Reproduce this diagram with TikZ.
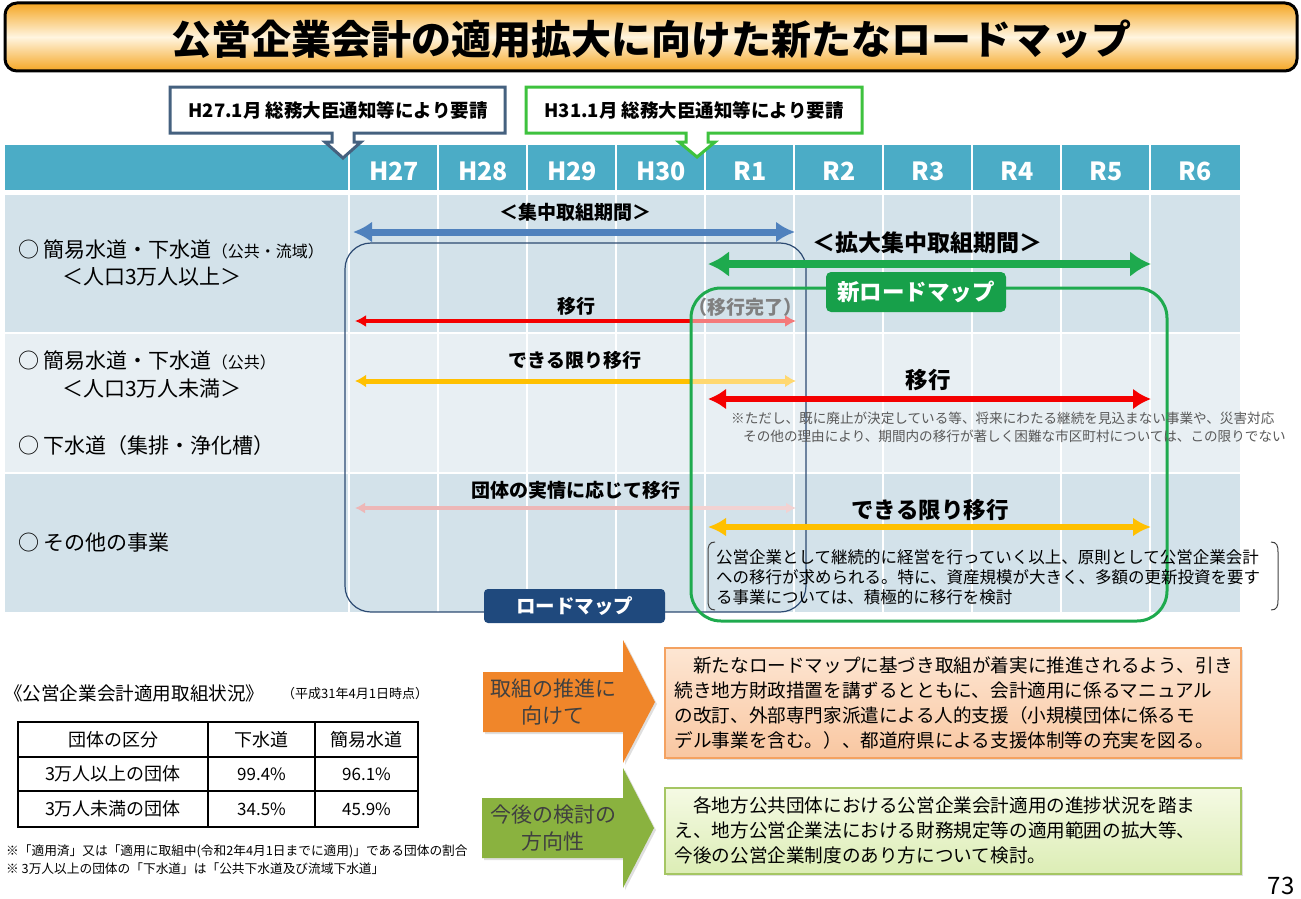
\documentclass[tikz,border=0pt]{standalone}
\usepackage{fontspec}
\setmainfont{Noto Sans CJK JP}
\usetikzlibrary{arrows.meta,calc,shadows}

\definecolor{ttlorange}{HTML}{F5A623}
\definecolor{ttlpale}{HTML}{FFF5E0}
\definecolor{hdr}{HTML}{4BACC6}
\definecolor{rowA}{HTML}{D3E2EA}
\definecolor{rowB}{HTML}{E8EFF3}
\definecolor{navy}{HTML}{1F497D}
\definecolor{navyline}{HTML}{2C4A72}
\definecolor{grn}{HTML}{1EAA4E}
\definecolor{grnbox}{HTML}{17A04A}
\definecolor{blu}{HTML}{4F81BD}
\definecolor{redA}{HTML}{F40000}
\definecolor{redB}{HTML}{F47A7A}
\definecolor{ylwA}{HTML}{FFC000}
\definecolor{ylwB}{HTML}{FFD870}
\definecolor{pnkA}{HTML}{EDB7B7}
\definecolor{pnkB}{HTML}{F2D2D2}
\definecolor{callblue}{HTML}{45617F}
\definecolor{callgreen}{HTML}{3EC23E}
\definecolor{notegray}{HTML}{595959}
\definecolor{arrorange}{HTML}{F0862A}
\definecolor{arrgreen}{HTML}{8AB23F}
\definecolor{otop}{HTML}{FDE6D3}
\definecolor{obot}{HTML}{F9C7A1}
\definecolor{obrd}{HTML}{F4A261}
\definecolor{gtop}{HTML}{F5FAE4}
\definecolor{gbot}{HTML}{DCEDB5}
\definecolor{gbrd}{HTML}{A5C663}

\newcommand{\fsz}[2]{\fontsize{#1}{#2}\selectfont}

\tikzset{
  hdrtxt/.style={text=white,font=\fsz{25}{25}\bfseries},
  lbl/.style={anchor=west,font=\fsz{21}{24}},
  tag/.style={font=\fsz{19}{20}\bfseries},
  bigtag/.style={font=\fsz{22.5}{24}\bfseries},
  cell/.style={font=\fsz{18}{20}},
  pct/.style={font=\fsz{17}{20}},
  boxtxt/.style={align=left,anchor=north west,font=\fsz{18.6}{25},drop shadow={opacity=0.25,shadow xshift=2pt,shadow yshift=-2pt}},
  arrtxt/.style={align=center,font=\fsz{21}{27},text=black!75},
  callout/.style={line width=3pt,fill=white,line join=miter},
}

\begin{document}
\begin{tikzpicture}[x=1pt,y=-1pt,>=latex,every node/.style={inner sep=0pt}]
  \useasboundingbox (0,0) rectangle (1301,899);
  % title bar
  \draw[line width=3pt,rounded corners=12pt,top color=ttlorange,bottom color=ttlorange,middle color=ttlpale] (5,3) rectangle (1297,71);
  \node[font=\fsz{40}{40}\bfseries] (title) at (651,39) {公営企業会計の適用拡大に向けた新たなロードマップ};

  % table rows
  \fill[hdr] (5,145) rectangle (1240,190);
  \fill[rowA] (5,195) rectangle (1240,332);
  \fill[rowB] (5,334) rectangle (1240,472);
  \fill[rowA] (5,474) rectangle (1240,612);
  \foreach \i in {0,...,9}
    \draw[white,line width=2pt] ({349+89*\i},145) -- ({349+89*\i},612);
  \foreach \yr [count=\i from 0] in {H27,H28,H29,H30,R1,R2,R3,R4,R5,R6}
    \node[hdrtxt] (yr\i) at ({394+89*\i},171) {\yr};

  % callouts
  \draw[callout,draw=callblue] (170,87) -- (505,87) -- (505,133) -- (354,133) -- (354,142) -- (361,142)
    -- (343,158) -- (325,142) -- (332,142) -- (332,133) -- (170,133) -- cycle;
  \node[font=\fsz{18.5}{18}\bfseries] (req1) at (338,110) {H27.1月 総務大臣通知等により要請};
  \draw[callout,draw=callgreen] (526,87) -- (862,87) -- (862,133) -- (708,133) -- (708,142) -- (715,142)
    -- (697,157) -- (679,142) -- (686,142) -- (686,133) -- (526,133) -- cycle;
  \node[font=\fsz{18.5}{18}\bfseries] (req2) at (694,110) {H31.1月 総務大臣通知等により要請};

  % row labels
  \node[lbl] (large) at (18,250) {○ 簡易水道・下水道{\fsz{16}{16}（公共・流域）}};
  \node[lbl] (largepop) at (62,277) {＜人口3万人以上＞};
  \node[lbl] (small) at (18,361) {○ 簡易水道・下水道{\fsz{16}{16}（公共）}};
  \node[lbl] (smallpop) at (62,389) {＜人口3万人未満＞};
  \node[lbl] (sewer) at (18,446) {○ 下水道（集排・浄化槽）};
  \node[lbl] (other) at (18,543) {○ その他の事業};

  % old roadmap
  \draw[navyline,line width=1.2pt,rounded corners=26pt] (345,243) rectangle (806,612);
  \coordinate (focusL) at (353,232);
  \coordinate (focusR) at (795,232);
  \draw[blu,line width=7pt,{Latex[length=19pt,width=21pt]}-{Latex[length=19pt,width=21pt]}] (focusL) -- (focusR);
  \node[tag] (focus) at (575,212) {＜集中取組期間＞};

  \coordinate (mvL) at (355,321);
  \coordinate (mvC) at (691,321);
  \coordinate (mvR) at (796,321);
  \draw[redB,line width=4pt,-{Latex[length=11pt,width=12pt]}] (mvC) -- (mvR);
  \draw[redA,line width=4pt,{Latex[length=11pt,width=12pt]}-] (mvL) -- (mvC);
  \node[tag] (mv) at (576,306) {移行};
  \node[tag,text=black!50] (done) at (745,307) {（移行完了）};

  \coordinate (tryL) at (355,381);
  \coordinate (tryC) at (691,381);
  \coordinate (tryR) at (796,381);
  \draw[ylwB,line width=5pt,-{Latex[length=11pt,width=13pt]}] (tryC) -- (tryR);
  \draw[ylwA,line width=5pt,{Latex[length=11pt,width=13pt]}-] (tryL) -- (tryC);
  \node[tag] (try) at (575,360) {できる限り移行};

  \coordinate (caseL) at (355,508);
  \coordinate (caseC) at (691,508);
  \coordinate (caseR) at (796,508);
  \draw[pnkB,line width=4pt,-{Latex[length=10pt,width=11pt]}] (caseC) -- (caseR);
  \draw[pnkA,line width=4pt,{Latex[length=10pt,width=11pt]}-] (caseL) -- (caseC);
  \node[tag] (case) at (576,490) {団体の実情に応じて移行};

  \node[fill=navy,rounded corners=4pt,minimum width=181pt,minimum height=34pt,text=white,font=\fsz{19.5}{20}\bfseries] (oldmap) at (574.5,606) {ロードマップ};

  % new roadmap
  \draw[grn,line width=3pt,rounded corners=30pt] (691,288) rectangle (1167,621);
  \node[fill=grnbox,rounded corners=5pt,minimum width=180pt,minimum height=40pt,text=white,font=\fsz{22.5}{23}\bfseries] (newmap) at (916,292) {新ロードマップ};

  \coordinate (wideL) at (708,264);
  \coordinate (wideR) at (1151,264);
  \draw[grn,line width=8pt,{Latex[length=21pt,width=26pt]}-{Latex[length=21pt,width=26pt]}] (wideL) -- (wideR);
  \node[font=\fsz{23}{24}\bfseries] (wide) at (927,243) {＜拡大集中取組期間＞};

  \coordinate (mustL) at (708,399);
  \coordinate (mustR) at (1151,399);
  \draw[redA,line width=6pt,{Latex[length=18pt,width=21pt]}-{Latex[length=18pt,width=21pt]}] (mustL) -- (mustR);
  \node[bigtag] (must) at (928,380) {移行};
  \node[anchor=west,align=left,font=\fsz{13.6}{18},text=notegray] (except) at (731,427)
    {※ただし、既に廃止が決定している等、将来にわたる継続を見込まない事業や、災害対応\\
     \hspace*{12pt}その他の理由により、期間内の移行が著しく困難な市区町村については、この限りでない};

  \coordinate (bestL) at (708,527);
  \coordinate (bestR) at (1151,527);
  \draw[ylwA,line width=6pt,{Latex[length=18pt,width=19pt]}-{Latex[length=18pt,width=19pt]}] (bestL) -- (bestR);
  \node[bigtag] (best) at (930,510) {できる限り移行};

  \draw[black!75,line width=1pt] (715,542) .. controls (709,542) and (708,546) .. (708,552) -- (708,600)
    .. controls (708,606) and (709,610) .. (715,610);
  \draw[black!75,line width=1pt] (1271,542) .. controls (1277,542) and (1278,546) .. (1278,552) -- (1278,600)
    .. controls (1278,606) and (1277,610) .. (1271,610);
  \node[anchor=west,align=left,font=\fsz{16.5}{20}] (policy) at (716,577)
    {公営企業として継続的に経営を行っていく以上、原則として公営企業会計\\
     への移行が求められる。特に、資産規模が大きく、多額の更新投資を要す\\
     る事業については、積極的に移行を検討};

  % status table
  \node[anchor=west,font=\fsz{18.6}{20}] (stat) at (4,693) {《公営企業会計適用取組状況》};
  \node[anchor=west,font=\fsz{13}{14}] (asof) at (282,694) {（平成31年4月1日時点）};
  \draw[line width=2pt] (18,722) rectangle (418,827);
  \draw[line width=2pt] (18,757) -- (418,757) (18,791) -- (418,791) (208,722) -- (208,827) (315,722) -- (315,827);
  \node[cell] (kind) at (113,740) {団体の区分};
  \node[cell] (gesui) at (261.5,740) {下水道};
  \node[cell] (kanni) at (366.5,740) {簡易水道};
  \node[cell] (over) at (113,774) {3万人以上の団体};
  \node[pct] (over1) at (261.5,774) {99.4\%};
  \node[pct] (over2) at (366.5,774) {96.1\%};
  \node[cell] (under) at (113,809) {3万人未満の団体};
  \node[pct] (under1) at (261.5,809) {34.5\%};
  \node[pct] (under2) at (366.5,809) {45.9\%};
  \node[anchor=west,font=\fsz{12.7}{14}] (note1) at (6,851) {※「適用済」又は「適用に取組中(令和2年4月1日までに適用)」である団体の割合};
  \node[anchor=west,font=\fsz{12.7}{14}] (note2) at (6,869) {※ 3万人以上の団体の「下水道」は「公共下水道及び流域下水道」};

  % bottom arrows and boxes
  \fill[arrorange,drop shadow={opacity=0.25,shadow xshift=2pt,shadow yshift=-2pt}] (483,672) -- (623,672) -- (623,640) -- (655,702) -- (623,763) -- (623,732) -- (483,732) -- cycle;
  \node[arrtxt] (push) at (553,702) {取組の推進に\\向けて};
  \fill[arrgreen,drop shadow={opacity=0.25,shadow xshift=2pt,shadow yshift=-2pt}] (482,798) -- (623,798) -- (623,768) -- (654,828) -- (623,888) -- (623,858) -- (482,858) -- cycle;
  \node[arrtxt] (future) at (553,828) {今後の検討の\\方向性};

  \node[boxtxt,draw=obrd,line width=1.5pt,top color=otop,bottom color=obot,text width=556pt,minimum width=576pt,minimum height=110pt] (plan) at (664,647)
    {　新たなロードマップに基づき取組が着実に推進されるよう、引き\\
     続き地方財政措置を講ずるとともに、会計適用に係るマニュアル\\
     の改訂、外部専門家派遣による人的支援（小規模団体に係るモ\\
     デル事業を含む。）、都道府県による支援体制等の充実を図る。};
  \node[boxtxt,draw=gbrd,line width=1.5pt,top color=gtop,bottom color=gbot,text width=556pt,minimum width=576pt,minimum height=86pt] (study) at (664,787)
    {　各地方公共団体における公営企業会計適用の進捗状況を踏ま\\
     え、地方公営企業法における財務規定等の適用範囲の拡大等、\\
     今後の公営企業制度のあり方について検討。};

  \node[font=\fsz{24}{24}] (page) at (1281,886) {73};
\end{tikzpicture}
\end{document}
